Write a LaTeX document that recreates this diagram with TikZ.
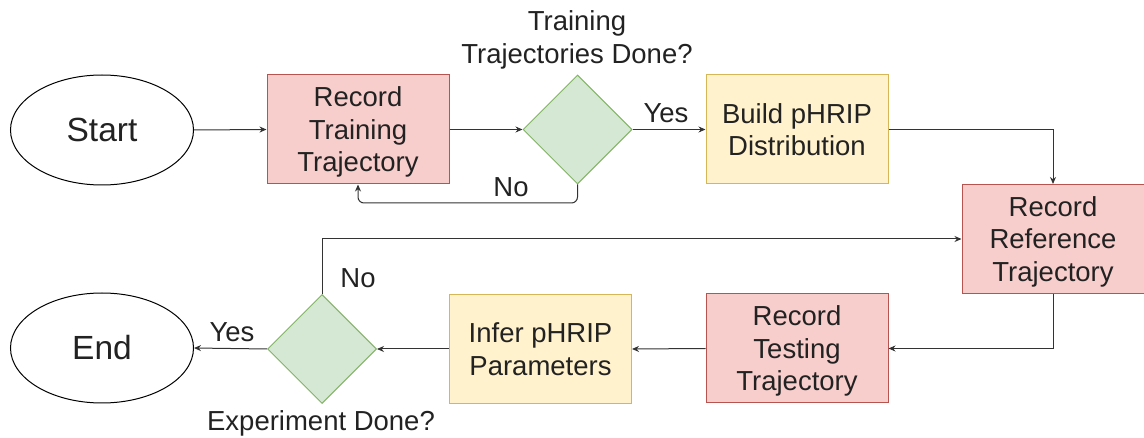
\documentclass[tikz,border=0pt]{standalone}
\usepackage{fontspec}
\setmainfont{Liberation Sans}
\usetikzlibrary{shapes.geometric,arrows.meta}
\definecolor{redfill}{HTML}{F8CECC}
\definecolor{redline}{HTML}{B85450}
\definecolor{yelfill}{HTML}{FFF2CC}
\definecolor{yelline}{HTML}{D6B656}
\definecolor{grnfill}{HTML}{D5E8D4}
\definecolor{grnline}{HTML}{82B366}
\definecolor{txt}{HTML}{222222}
\definecolor{wire}{HTML}{333333}
\begin{document}
\begin{tikzpicture}[x=1pt,y=-1pt,
  every node/.style={text=txt,font=\fontsize{27.5}{32.5}\selectfont},
  procbox/.style={rectangle,draw=redline,fill=redfill,line width=1pt,minimum width=182pt,minimum height=109pt,inner sep=0pt,align=center,text depth=0pt},
  calcbox/.style={rectangle,draw=yelline,fill=yelfill,line width=1pt,minimum width=182pt,minimum height=109pt,inner sep=0pt,align=center},
  choice/.style={diamond,draw=grnline,fill=grnfill,line width=1pt,minimum width=109pt,minimum height=109pt,inner sep=0pt,aspect=1},
  terminal/.style={ellipse,draw=black,line width=1pt,minimum width=183pt,minimum height=110pt,inner sep=0pt,font=\fontsize{33.5}{39}\selectfont},
  flow/.style={draw=wire,line width=1pt,-{Stealth[length=7pt,width=6pt]},rounded corners=6pt},
  tag/.style={inner sep=0pt}]
\useasboundingbox (0,0) rectangle (1144,438);

% nodes
\node[terminal] (start) at (102,130) {Start};
\node[procbox] (rtrain) at (358,129.5) {Record\\Training\\Trajectory};
\node[choice] (dtrain) at (577.5,129.5) {};
\node[calcbox] (build) at (797,129.5) {Build pHRIP\\Distribution};
\node[procbox] (rref) at (1053,239) {Record\\Reference\\Trajectory};
\node[procbox] (rtest) at (797,348.5) {Record\\Testing\\Trajectory};
\node[calcbox] (infer) at (540.5,349) {Infer pHRIP\\Parameters};
\node[choice] (dexp) at (322,349) {};
\node[terminal] (finish) at (102,348) {End};

% captions and branch labels
\node[tag,align=center] (qtrain) at (577,40) {Training\\Trajectories Done?};
\node[tag] (qexp) at (321,423) {Experiment Done?};
\node[tag] (ytrain) at (666,113) {Yes};
\node[tag] (ntrain) at (511,187) {No};
\node[tag] (nexp) at (358,278) {No};
\node[tag] (yexp) at (232,332) {Yes};

% connectors
\coordinate (c1) at (577.5,203);
\coordinate (c2) at (358,203);
\coordinate (c3) at (1053,129.5);
\coordinate (c4) at (1053,348.5);
\coordinate (c5) at (322,239);

\draw[flow] (start.east) -- (rtrain.west);
\draw[flow] (rtrain.east) -- (dtrain.west);
\draw[flow] (dtrain.east) -- (build.west);
\draw[flow] (dtrain.south) -- (c1) -- (c2) -- (rtrain.south);
\draw[flow,rounded corners=0pt] (build.east) -- (c3) -- (rref.north);
\draw[flow,rounded corners=0pt] (rref.south) -- (c4) -- (rtest.east);
\draw[flow] (rtest.west) -- (infer.east);
\draw[flow] (infer.west) -- (dexp.east);
\draw[flow] (dexp.west) -- (finish.east);
\draw[flow,rounded corners=0pt] (dexp.north) -- (c5) -- (rref.west);
\end{tikzpicture}
\end{document}
